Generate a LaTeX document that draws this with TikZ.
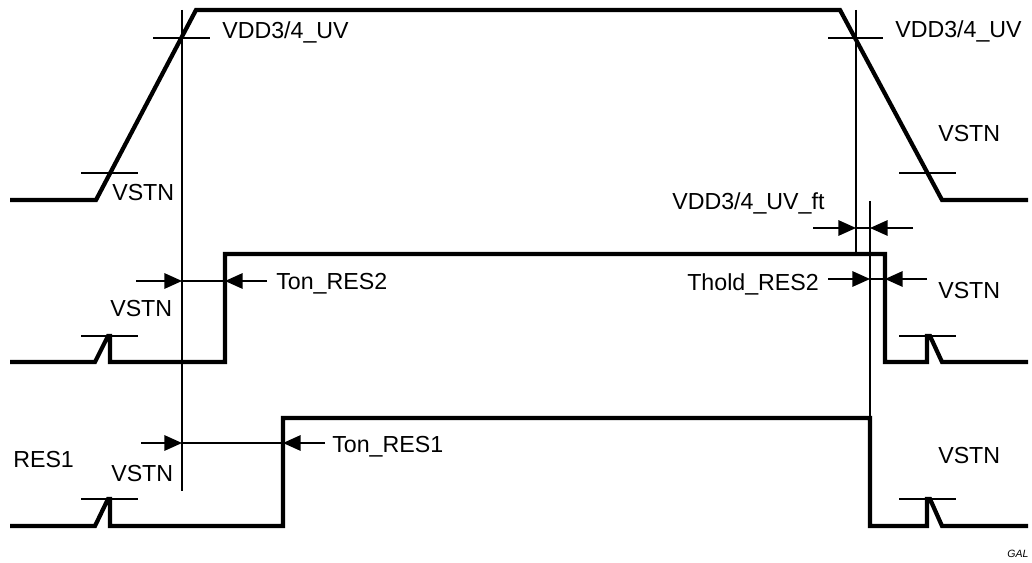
\documentclass[tikz,border=0pt]{standalone}
\usepackage{fontspec}
\setmainfont{Liberation Sans}
\usetikzlibrary{arrows.meta}

\tikzset{
  wave/.style={line width=3pt, line join=miter},
  guide/.style={line width=1pt},
  dimarrow/.style={line width=1pt, -{Triangle[length=12.5pt,width=11pt]}},
  lbl/.style={font=\fontsize{16.5}{18}\selectfont, inner sep=0pt, anchor=base west},
}

\begin{document}
\begin{tikzpicture}[x=0.025cm, y=-0.025cm]
\useasboundingbox (0,0) rectangle (1032,563);

% marker lines
\coordinate (M1top) at (182,10);
\coordinate (M1bot) at (182,491);
\coordinate (M2top) at (856,10);
\coordinate (M2bot) at (856,254);
\coordinate (M3top) at (870,201);
\coordinate (M3bot) at (870,418);
\draw[guide] (M1top) -- (M1bot);
\draw[guide] (M2top) -- (M2bot);
\draw[guide] (M3top) -- (M3bot);

% VDD
\draw[wave] (10,200) -- (96,200) -- (196,10) -- (840,10) -- (942,200) -- (1028,200);
\draw[guide] (81,173) -- (138,173);
\draw[guide] (153,38) -- (210,38);
\draw[guide] (828,38) -- (883,38);
\draw[guide] (899,173) -- (956,173);

% RES2
\draw[wave] (10,362) -- (95,362) -- (108,336) -- (110,336) -- (110,362) -- (225,362)
  -- (225,254) -- (885,254) -- (885,362) -- (927,362) -- (927,336) -- (930,336)
  -- (942,362) -- (1028,362);
\draw[guide] (81,336) -- (138,336);
\draw[guide] (899,336) -- (956,336);

% RES1
\draw[wave] (10,526) -- (95,526) -- (108,499) -- (110,499) -- (110,526) -- (283,526)
  -- (283,418) -- (870,418) -- (870,526) -- (927,526) -- (927,499) -- (930,499)
  -- (942,526) -- (1028,526);
\draw[guide] (81,499) -- (138,499);
\draw[guide] (899,499) -- (956,499);

% Ton_RES2
\coordinate (A1) at (136,281);
\coordinate (A2) at (182,281);
\coordinate (A3) at (225,281);
\coordinate (A4) at (267,281);
\draw[dimarrow] (A1) -- (A2);
\draw[guide] (A2) -- (A3);
\draw[dimarrow] (A4) -- (A3);

% Ton_RES1
\coordinate (B1) at (141,443);
\coordinate (B2) at (182,443);
\coordinate (B3) at (283,443);
\coordinate (B4) at (325,443);
\draw[dimarrow] (B1) -- (B2);
\draw[guide] (B2) -- (B3);
\draw[dimarrow] (B4) -- (B3);

% VDD3/4_UV_ft
\coordinate (C1) at (813,228);
\coordinate (C2) at (856,228);
\coordinate (C3) at (870,228);
\coordinate (C4) at (913,228);
\draw[dimarrow] (C1) -- (C2);
\draw[guide] (C2) -- (C3);
\draw[dimarrow] (C4) -- (C3);

% Thold_RES2
\coordinate (D1) at (828,279);
\coordinate (D2) at (870,279);
\coordinate (D3) at (885,279);
\coordinate (D4) at (927,279);
\draw[dimarrow] (D1) -- (D2);
\draw[guide] (D2) -- (D3);
\draw[dimarrow] (D4) -- (D3);

% labels
\node[lbl] (uvL) at (222,39) {VDD3/4\_UV};
\node[lbl] (uvR) at (895,38) {VDD3/4\_UV};
\node[lbl] (vstnA) at (112,201) {VSTN};
\node[lbl] (vstnB) at (110,317) {VSTN};
\node[lbl] (vstnC) at (111,481) {VSTN};
\node[lbl] (vstnD) at (938,142) {VSTN};
\node[lbl] (vstnE) at (938,299) {VSTN};
\node[lbl] (vstnF) at (938,463) {VSTN};
\node[lbl] (tonR2) at (276,290) {Ton\_RES2};
\node[lbl] (tonR1) at (332,452) {Ton\_RES1};
\node[lbl] (res1) at (13,467) {RES1};
\node[lbl] (uvft) at (672,210) {VDD3/4\_UV\_ft};
\node[lbl] (thold) at (687,291) {Thold\_RES2};
\node[lbl, font=\fontsize{7.5}{9}\selectfont\itshape] (gal) at (1007,557) {GAL};
\end{tikzpicture}
\end{document}
